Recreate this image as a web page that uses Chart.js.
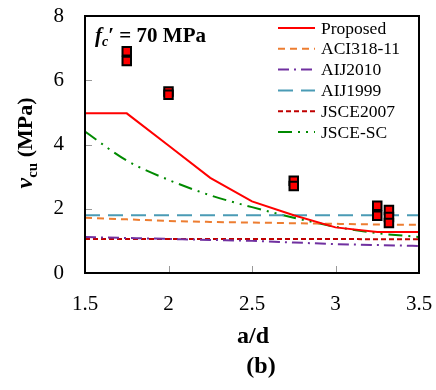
<!DOCTYPE html>
<html>
<head>
<meta charset="utf-8">
<script src="https://cdn.jsdelivr.net/npm/chart.js@4.4.0/dist/chart.umd.min.js"></script>
<style>
  html, body { margin: 0; padding: 0; background: #fff; }
  #wrap { position: relative; width: 436px; height: 390px; }
</style>
</head>
<body>
<div id="wrap"><canvas id="chart"></canvas></div>
<script>
const serif = "'Liberation Serif', 'Times New Roman', serif";

// a/d values for the design curves
const adValues = [1.5, 1.75, 2.0, 2.25, 2.5, 2.75, 3.0, 3.25, 3.5];

const proposed = [4.97, 4.97, 3.97, 2.96, 2.23, 1.80, 1.42, 1.28, 1.28];
const aci318 = [1.72, 1.67, 1.62, 1.59, 1.57, 1.55, 1.53, 1.51, 1.50];
const aij2010 = [1.12, 1.09, 1.06, 1.03, 1.00, 0.95, 0.90, 0.87, 0.84];
const aij1999 = [1.80, 1.80, 1.80, 1.80, 1.80, 1.80, 1.80, 1.80, 1.80];
const jsce2007 = [1.06, 1.06, 1.06, 1.06, 1.06, 1.06, 1.06, 1.05, 1.05];
const jsceSC = [4.40, 3.50, 2.90, 2.42, 2.05, 1.72, 1.44, 1.24, 1.12];

// test results
const testAd = [1.75, 1.75, 2.0, 2.0, 2.75, 2.75, 3.25, 3.25, 3.32, 3.32, 3.32];
const testV = [6.90, 6.60, 5.65, 5.55, 2.87, 2.71, 2.09, 1.78, 1.96, 1.74, 1.56];

const xTicks = [1.5, 2, 2.5, 3, 3.5];
const yTicks = [0, 2, 4, 6, 8];

function pts(xs, ys) {
  return xs.map((x, i) => ({ x: x, y: ys[i] }));
}

function curve(label, values, color, dash, smooth) {
  return {
    label: label,
    data: pts(adValues, values),
    showLine: true,
    borderColor: color,
    backgroundColor: color,
    borderWidth: 2,
    borderDash: dash,
    pointRadius: 0,
    cubicInterpolationMode: smooth ? 'monotone' : 'default',
    tension: 0,
    order: 1
  };
}

const labelPlugin = {
  id: 'labels',
  afterDraw(chart) {
    const ctx = chart.ctx;
    const sx = chart.scales.x, sy = chart.scales.y;
    const L = Math.round(sx.getPixelForValue(xTicks[0]));
    const R = Math.round(sx.getPixelForValue(xTicks[xTicks.length - 1]));
    const T = Math.round(sy.getPixelForValue(yTicks[yTicks.length - 1]));
    const B = Math.round(sy.getPixelForValue(yTicks[0]));

    ctx.save();
    ctx.setLineDash([]);
    // inner ticks
    ctx.strokeStyle = '#999';
    ctx.lineWidth = 1;
    yTicks.slice(1, -1).forEach(v => {
      const y = Math.round(sy.getPixelForValue(v)) + 0.5;
      ctx.beginPath(); ctx.moveTo(L, y); ctx.lineTo(L + 7, y); ctx.stroke();
    });
    xTicks.slice(1, -1).forEach(v => {
      const x = Math.round(sx.getPixelForValue(v)) + 0.5;
      ctx.beginPath(); ctx.moveTo(x, B); ctx.lineTo(x, B - 7); ctx.stroke();
    });

    // frame
    ctx.strokeStyle = '#000';
    ctx.lineWidth = 2;
    ctx.beginPath();
    ctx.moveTo(L, T); ctx.lineTo(R, T); ctx.lineTo(R, B); ctx.lineTo(L, B); ctx.closePath();
    ctx.stroke();

    ctx.fillStyle = '#000';
    ctx.textBaseline = 'alphabetic';

    // fc' = 70 MPa
    let x = L + 10;
    const base = 42;
    ctx.font = 'italic bold 21px ' + serif;
    ctx.fillText('f', x, base);
    x += ctx.measureText('f').width;
    ctx.font = 'italic bold 14px ' + serif;
    ctx.fillText('c', x, base + 4);
    x += ctx.measureText('c').width;
    ctx.font = 'bold 21px ' + serif;
    ctx.fillText('\u2032 = 70 MPa', x, base);

    // legend
    const lines = chart.data.datasets.filter(d => d.showLine);
    ctx.font = '17.5px ' + serif;
    lines.forEach((d, i) => {
      const y = 28 + i * 20.8;
      ctx.strokeStyle = d.borderColor;
      ctx.lineWidth = 2;
      ctx.setLineDash(d.borderDash || []);
      ctx.beginPath(); ctx.moveTo(278, y); ctx.lineTo(315, y); ctx.stroke();
      ctx.setLineDash([]);
      ctx.fillStyle = '#000';
      ctx.textBaseline = 'middle';
      ctx.fillText(d.label, 321, y + 1);
    });

    // axis titles
    ctx.textBaseline = 'alphabetic';
    ctx.textAlign = 'center';
    ctx.font = 'bold 24px ' + serif;
    ctx.fillText('a/d', 253, 343);
    ctx.fillText('(b)', 261, 373);

    ctx.translate(32, 143);
    ctx.rotate(-Math.PI / 2);
    ctx.textAlign = 'left';
    const p1 = '\u03bd', p2 = 'cu', p3 = ' (MPa)';
    ctx.font = 'italic bold 24px ' + serif;
    const w1 = ctx.measureText(p1).width;
    ctx.font = 'bold 15px ' + serif;
    const w2 = ctx.measureText(p2).width;
    ctx.font = 'bold 22px ' + serif;
    const w3 = ctx.measureText(p3).width;
    let tx = -(w1 + w2 + w3) / 2;
    ctx.font = 'italic bold 24px ' + serif;
    ctx.fillText(p1, tx, 0);
    tx += w1;
    ctx.font = 'bold 15px ' + serif;
    ctx.fillText(p2, tx, 5);
    tx += w2;
    ctx.font = 'bold 22px ' + serif;
    ctx.fillText(p3, tx, 0);
    ctx.restore();
  }
};

new Chart(document.getElementById('chart'), {
  type: 'scatter',
  data: {
    datasets: [
      {
        label: 'Test',
        data: pts(testAd, testV),
        pointStyle: 'rect',
        pointRadius: 6,
        pointHoverRadius: 6,
        pointBackgroundColor: '#ff0000',
        pointBorderColor: '#000',
        pointBorderWidth: 2,
        showLine: false,
        order: 0
      },
      curve('Proposed', proposed, '#ff0000', [], false),
      curve('ACI318-11', aci318, '#ed7d31', [7, 5], true),
      curve('AIJ2010', aij2010, '#7030a0', [11, 5, 2, 5], true),
      curve('AIJ1999', aij1999, '#4a9bb5', [15, 8], false),
      curve('JSCE2007', jsce2007, '#c00000', [5, 3], false),
      curve('JSCE-SC', jsceSC, '#008a00', [14, 6, 2, 6, 2, 6], true)
    ]
  },
  options: {
    responsive: true,
    maintainAspectRatio: false,
    animation: false,
    layout: { padding: { left: 0, right: 17, top: 16, bottom: 0 } },
    plugins: {
      legend: { display: false },
      tooltip: { enabled: false },
      title: { display: false }
    },
    scales: {
      x: {
        type: 'linear',
        min: 1.5,
        max: 3.5,
        afterBuildTicks: s => { s.ticks = xTicks.map(v => ({ value: v })); },
        afterFit: s => { s.height = 117; s.paddingLeft = 0; s.paddingRight = 0; },
        grid: { display: false },
        border: { display: true, color: '#000', width: 2 },
        ticks: {
          color: '#000',
          font: { family: serif, size: 21 },
          padding: 11,
          callback: v => String(v)
        }
      },
      y: {
        type: 'linear',
        min: 0,
        max: 8,
        afterBuildTicks: s => { s.ticks = yTicks.map(v => ({ value: v })); },
        afterFit: s => { s.width = 85; s.paddingTop = 0; s.paddingBottom = 0; },
        grid: { display: false },
        border: { display: true, color: '#000', width: 2 },
        ticks: {
          color: '#000',
          font: { family: serif, size: 21 },
          padding: 13,
          callback: v => String(v)
        }
      }
    }
  },
  plugins: [labelPlugin]
});
</script>
</body>
</html>
